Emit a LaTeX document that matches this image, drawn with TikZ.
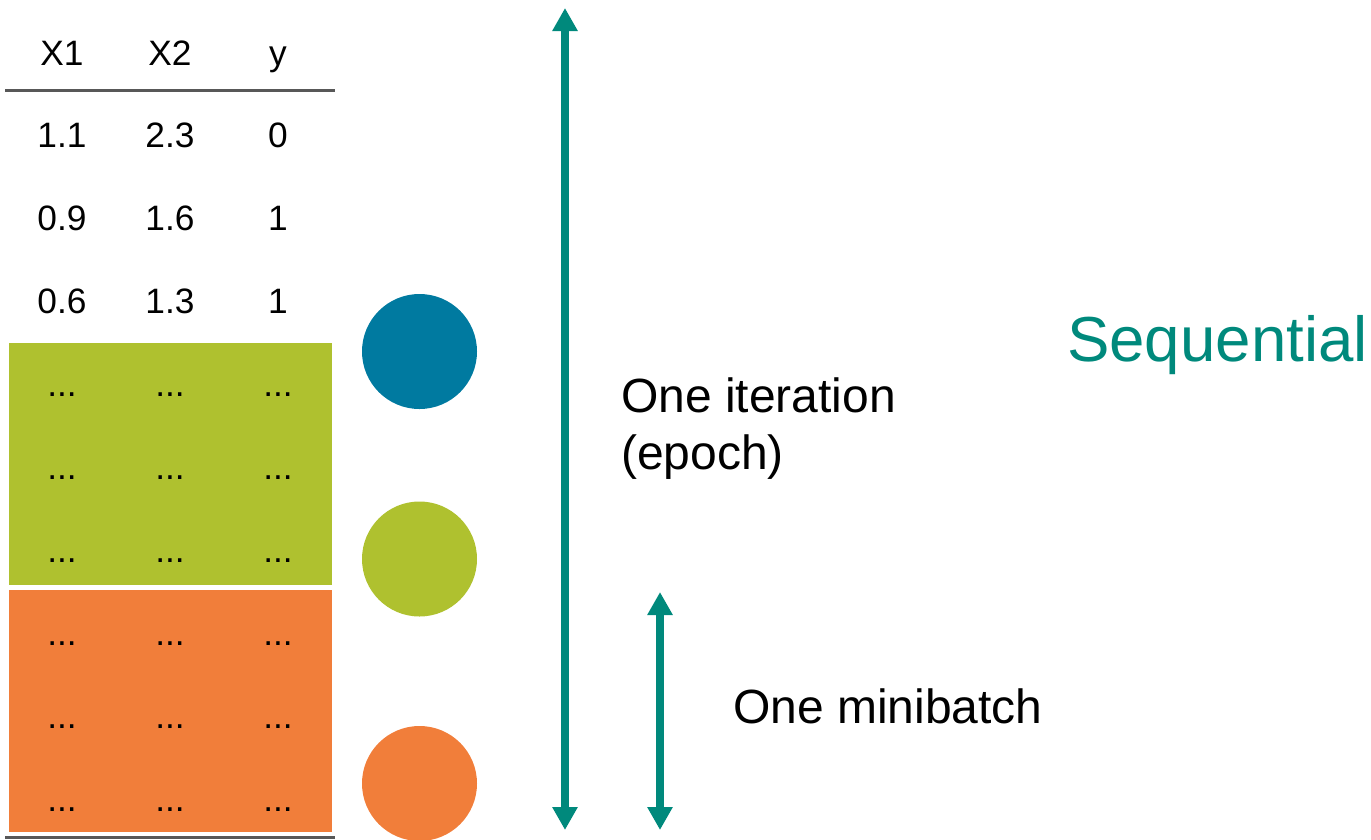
\documentclass[tikz,border=0pt]{standalone}
\usepackage{fontspec}
\setmainfont{Liberation Sans}
\usetikzlibrary{arrows.meta}

\definecolor{teal}{RGB}{0,137,124}
\definecolor{dotblue}{RGB}{0,122,160}
\definecolor{batchgreen}{RGB}{175,193,47}
\definecolor{batchorange}{RGB}{241,126,58}
\definecolor{rulegray}{RGB}{88,88,88}

\tikzset{
  cell/.style={anchor=base, inner sep=0pt, font=\fontsize{35.3}{42}\selectfont},
  label/.style={anchor=base west, inner sep=0pt, font=\fontsize{48}{57}\selectfont},
  dot/.style={circle, minimum size=115pt, inner sep=0pt},
  span/.style={draw=teal, line width=8pt,
    {Triangle[width=24pt,length=23pt]}-{Triangle[width=24pt,length=23pt]}},
  hrule/.style={draw=rulegray, line width=3pt}
}

\begin{document}
\begin{tikzpicture}[x=1pt,y=-1pt]
  \useasboundingbox (0,0) rectangle (1371,839);

  % minibatch blocks behind the rows
  \fill[batchgreen]  (9,343) rectangle (332,585);
  \fill[batchorange] (9,590) rectangle (332,832);

  % table rules
  \coordinate (ruleTL) at (5,90);
  \coordinate (ruleTR) at (335,90);
  \coordinate (ruleBL) at (5,837.5);
  \coordinate (ruleBR) at (335,837.5);
  \draw[hrule] (ruleTL) -- (ruleTR);
  \draw[hrule] (ruleBL) -- (ruleBR);

  % header
  \node[cell] (hX1) at (62,65) {X1};
  \node[cell] (hX2) at (170,65) {X2};
  \node[cell] (hy)  at (278,65) {y};

  % data rows
  \node[cell] (r1a) at (62,147.5)  {1.1};
  \node[cell] (r1b) at (170,147.5) {2.3};
  \node[cell] (r1c) at (278,147.5) {0};
  \node[cell] (r2a) at (62,230.5)  {0.9};
  \node[cell] (r2b) at (170,230.5) {1.6};
  \node[cell] (r2c) at (278,230.5) {1};
  \node[cell] (r3a) at (62,313.5)  {0.6};
  \node[cell] (r3b) at (170,313.5) {1.3};
  \node[cell] (r3c) at (278,313.5) {1};
  \foreach \r/\yy in {4/396.5,5/479.5,6/562.5,7/645.5,8/728.5,9/811.5}{
    \node[cell] (r\r a) at (62,\yy)  {...};
    \node[cell] (r\r b) at (170,\yy) {...};
    \node[cell] (r\r c) at (278,\yy) {...};
  }

  % one circle per minibatch
  \node[dot, fill=dotblue]     (cBlue)   at (419.5,351.5) {};
  \node[dot, fill=batchgreen]  (cGreen)  at (419.5,559)   {};
  \node[dot, fill=batchorange] (cOrange) at (419.5,783.5) {};

  % extent arrows
  \coordinate (epochTop) at (565,8);
  \coordinate (epochBot) at (565,830);
  \coordinate (batchTop) at (660,592);
  \coordinate (batchBot) at (660,830);
  \draw[span] (epochTop) -- (epochBot);
  \draw[span] (batchTop) -- (batchBot);

  % labels
  \node[label] (iterA) at (621,412.5) {One iteration};
  \node[label] (iterB) at (621,469.5) {(epoch)};
  \node[label] (mini)  at (733,723.5) {One minibatch};
  \node[label, text=teal, font=\fontsize{63.6}{75}\selectfont] (seq) at (1067,361) {Sequential};
\end{tikzpicture}
\end{document}
